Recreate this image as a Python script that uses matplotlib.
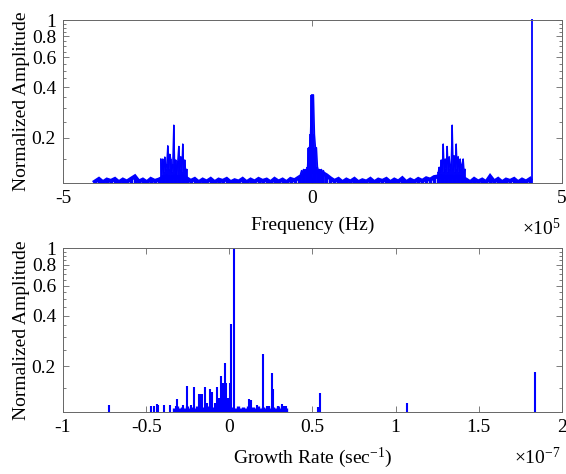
import numpy as np
import matplotlib
matplotlib.use("Agg")
import matplotlib.pyplot as plt
from matplotlib.ticker import FixedLocator, FixedFormatter, NullFormatter

plt.rcParams['font.family'] = ['Liberation Serif', 'DejaVu Serif']
plt.rcParams['mathtext.fontset'] = 'custom'
plt.rcParams['mathtext.rm'] = 'Liberation Serif'
plt.rcParams['mathtext.it'] = 'Liberation Serif:italic'
plt.rcParams['font.size'] = 14

BLUE = (0, 0, 1)
AXC = '0.4'

# ---- top panel: spectrum (frequency in kHz) ----
# noise floor, one value per 8 kHz bin from -436 to 436 kHz
noise_amp = [
    0.110, 0.114, 0.109, 0.113, 0.111, 0.114, 0.109, 0.113, 0.110, 0.114,
    0.118, 0.110, 0.113, 0.109, 0.114, 0.111, 0.113, 0.116, 0.118, 0.116,
    0.118, 0.117, 0.118, 0.115, 0.111, 0.114, 0.109, 0.113, 0.110, 0.114,
    0.109, 0.113, 0.111, 0.114, 0.109, 0.112, 0.110, 0.114, 0.109, 0.113,
    0.110, 0.114, 0.111, 0.113, 0.109, 0.114, 0.110, 0.113, 0.109, 0.114,
    0.112, 0.116, 0.120, 0.124, 0.126, 0.125, 0.126, 0.124, 0.120, 0.115,
    0.111, 0.114, 0.109, 0.113, 0.110, 0.114, 0.109, 0.112, 0.110, 0.114,
    0.109, 0.113, 0.111, 0.114, 0.109, 0.113, 0.110, 0.115, 0.109, 0.113,
    0.110, 0.114, 0.111, 0.115, 0.113, 0.117, 0.118, 0.118, 0.117, 0.118,
    0.117, 0.118, 0.116, 0.113, 0.109, 0.114, 0.110, 0.113, 0.109, 0.118,
    0.110, 0.114, 0.109, 0.113, 0.111, 0.114, 0.109, 0.113, 0.110, 0.114,
]
noise_freq = np.linspace(-436, 436, len(noise_amp))

# sideband cluster left (-304 .. -252 kHz, 2 kHz bins)
left_amp = [0.150, 0.120, 0.150, 0.125, 0.154, 0.130, 0.140, 0.180, 0.130,
            0.160, 0.150, 0.125, 0.140, 0.238, 0.130, 0.148, 0.120, 0.145,
            0.178, 0.130, 0.155, 0.125, 0.184, 0.130, 0.148, 0.125, 0.130]
left_freq = np.arange(-304, -251, 2)

# carrier (-24 .. 24 kHz)
center_amp = [0.122, 0.128, 0.125, 0.130, 0.126, 0.130, 0.128, 0.135, 0.175,
              0.175, 0.210, 0.360, 0.360, 0.360, 0.210, 0.175, 0.175, 0.135,
              0.128, 0.130, 0.126, 0.130, 0.125, 0.128, 0.122]
center_freq = np.arange(-24, 25, 2)

# sideband cluster right (252 .. 306 kHz)
right_amp = [0.125, 0.134, 0.125, 0.148, 0.130, 0.184, 0.125, 0.150, 0.130,
             0.178, 0.125, 0.155, 0.130, 0.140, 0.238, 0.130, 0.157, 0.125,
             0.184, 0.130, 0.155, 0.125, 0.150, 0.130, 0.140, 0.150, 0.125,
             0.130]
right_freq = np.arange(252, 307, 2)

peak_freq = [439]
peak_amp = [1.02]

# ---- bottom panel: growth rate (x1e-7 1/s) ----
rate = [-0.723, -0.473, -0.455, -0.437, -0.430, -0.393, -0.357, -0.320, -0.315,
        -0.280, -0.256, -0.230, -0.214, -0.184, -0.172, -0.163, -0.146, -0.136,
        -0.114, -0.102, -0.088, -0.076, -0.062, -0.048, -0.040, -0.024, -0.018,
        -0.010, 0.002, 0.010, 0.030, 0.118, 0.128, 0.168, 0.200, 0.225, 0.238,
        0.255, 0.264, 0.290, 0.315, 0.330, 0.340, 0.531, 0.545, 1.070, 1.840]
rate_amp = [0.118, 0.116, 0.117, 0.120, 0.118, 0.118, 0.118, 0.117, 0.128,
            0.118, 0.153, 0.119, 0.152, 0.137, 0.137, 0.137, 0.152, 0.121,
            0.148, 0.142, 0.122, 0.152, 0.130, 0.175, 0.160, 0.211, 0.160,
            0.130, 0.160, 0.356, 1.030, 0.128, 0.127, 0.119, 0.237, 0.116, 0.116,
            0.182, 0.148, 0.116, 0.120, 0.117, 0.116, 0.115, 0.140, 0.122, 0.185]

floor_rate = [-0.330, -0.315, -0.300, -0.285, -0.270, -0.255, -0.240, -0.225,
              -0.210, -0.195, -0.180, -0.165, -0.150, -0.135, -0.120, -0.105,
              -0.090, -0.075, -0.060, -0.045, -0.030, -0.015, 0.000, 0.015,
              0.040, 0.055, 0.070, 0.085, 0.100, 0.115, 0.130, 0.145, 0.160,
              0.175, 0.190, 0.205, 0.220, 0.235, 0.250, 0.265, 0.280, 0.295,
              0.310, 0.325, 0.340]
floor_amp = [0.114, 0.116, 0.113, 0.115, 0.114, 0.116, 0.113, 0.115, 0.114,
             0.116, 0.113, 0.115, 0.114, 0.116, 0.113, 0.115, 0.114, 0.116,
             0.113, 0.115, 0.114, 0.116, 0.113, 0.115, 0.114, 0.116, 0.113,
             0.115, 0.114, 0.116, 0.113, 0.115, 0.114, 0.116, 0.113, 0.115,
             0.114, 0.116, 0.113, 0.115, 0.114, 0.116, 0.113, 0.115, 0.114]

Y_MIN = 0.108
Y_TICKS = [0.2, 0.4, 0.6, 0.8, 1]
Y_MINOR = [0.15, 0.25, 0.3, 0.35, 0.45, 0.5, 0.55, 0.65, 0.7, 0.75,
           0.85, 0.9, 0.95]


def style_axes(ax):
    ax.set_yscale('log')
    ax.set_ylim(Y_MIN, 1)
    ax.yaxis.set_major_locator(FixedLocator(Y_TICKS))
    ax.yaxis.set_major_formatter(FixedFormatter(['0.2', '0.4', '0.6', '0.8', '1']))
    ax.yaxis.set_minor_locator(FixedLocator(Y_MINOR))
    ax.yaxis.set_minor_formatter(NullFormatter())
    ax.tick_params(which='both', direction='in', top=True, right=True,
                   color=AXC, labelsize=14, pad=5)
    ax.tick_params(which='major', length=4, width=0.6)
    ax.tick_params(which='minor', length=2.2, width=0.6)
    for s in ax.spines.values():
        s.set_color(AXC)
        s.set_linewidth(0.7)
    ax.set_ylabel('Normalized Amplitude', labelpad=1)


fig = plt.figure(figsize=(5.66, 4.74), dpi=100)
ax1 = fig.add_axes([0.1113, 0.6139, 0.8816, 0.3439])
ax2 = fig.add_axes([0.1113, 0.1314, 0.8816, 0.3448])

# top
ax1.plot(noise_freq * 1e3, noise_amp, color=BLUE, lw=3.0, solid_joinstyle='miter')
ax1.vlines(noise_freq * 1e3, Y_MIN, noise_amp, color=BLUE, lw=2.4)
for f, a in [(left_freq, left_amp), (center_freq, center_amp), (right_freq, right_amp)]:
    ax1.vlines(np.asarray(f) * 1e3, Y_MIN, a, color=BLUE, lw=1.3)
    ax1.plot(np.asarray(f) * 1e3, a, color=BLUE, lw=1.0)
ax1.vlines(np.asarray(peak_freq) * 1e3, Y_MIN, peak_amp, color=BLUE, lw=1.3, clip_on=False)
ax1.set_xlim(-5e5, 5e5)
ax1.set_xticks([-5e5, 0, 5e5])
ax1.set_xticklabels(['-5', '0', '5'])
style_axes(ax1)
ax1.set_xlabel('Frequency (Hz)', labelpad=7)
ax1.text(0.998, -0.32, '×10$^{5}$', transform=ax1.transAxes, ha='right', va='baseline',
         fontsize=14)

# bottom
ax2.vlines(floor_rate, 0.1, floor_amp, color=BLUE, lw=2.4)
ax2.vlines(rate, 0.1, rate_amp, color=BLUE, lw=1.5)
ax2.set_xlim(-1, 2)
ax2.set_xticks([-1, -0.5, 0, 0.5, 1, 1.5, 2])
ax2.set_xticklabels(['-1', '-0.5', '0', '0.5', '1', '1.5', '2'])
style_axes(ax2)
ax2.set_xlabel('Growth Rate (sec$^{-1}$)', labelpad=7)
ax2.text(0.998, -0.32, '×10$^{-7}$', transform=ax2.transAxes, ha='right', va='baseline',
         fontsize=14)

fig.savefig('out.png', dpi=100)
